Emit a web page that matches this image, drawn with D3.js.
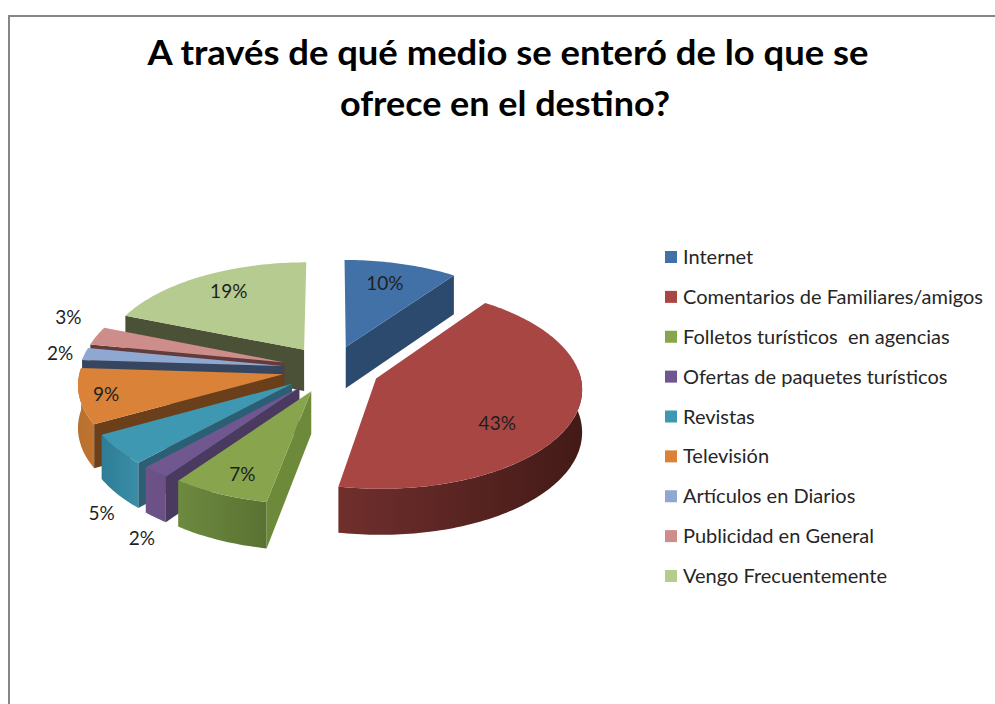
<!DOCTYPE html>
<html>
<head>
<meta charset="utf-8">
<script src="https://cdn.jsdelivr.net/npm/d3@7"></script>
<style>
  html, body { margin: 0; padding: 0; background: #fff; }
  svg { display: block; }
  text { font-family: Lato, "Open Sans", sans-serif; }
</style>
</head>
<body>
<div id="vis"></div>
<script>
const titleLines = ["A través de qué medio se enteró de lo que se", "ofrece en el destino?"];
const categories = ["Internet", "Comentarios de Familiares/amigos", "Folletos turísticos  en agencias",
  "Ofertas de paquetes turísticos", "Revistas", "Televisión", "Artículos en Diarios",
  "Publicidad en General", "Vengo Frecuentemente"];
const percents = [10, 43, 7, 2, 5, 9, 2, 3, 19];

// colours per slice
const topColors = ["#4271a8", "#a84643", "#88a54d", "#715790", "#3e98b1", "#d98238", "#8fa8d2", "#cd8d8b", "#b6cb90"];
const cutColors = ["#2c4a6e", "#451b18", "#6d8a3b", "#4b3a60", "#2a5f75", "#6a3f1a", "#374660", "#623b3a", "#4b5136"];
const wallLeft = ["#2c4a6e", "#702f2d", "#6d8a3f", "#6d5288", "#2f7c95", "#b8702f", "#7a90b5", "#a87573", "#94a675"];
const wallRight = ["#2c4a6e", "#431a17", "#5a7232", "#6b5085", "#3a8ea8", "#c07530", "#7a90b5", "#a87573", "#94a675"];

// back to front
const drawOrder = [0, 8, 7, 6, 5, 4, 3, 2, 1];

// label placement: radius on the disc, then a pixel shift
const labelRadius = [0.65, 0.65, 0.87, 1.15, 1.15, 0.87, 1.1, 1.1, 0.68];
const labelShiftX = [2, -5, 10, 10, 12, 0, -5, -10, -4];
const labelShiftY = [-8, 18, -6, 52, 53, 1, 0, -16, -8];

const width = 995, height = 704;
const svg = d3.select("#vis").append("svg").attr("width", width).attr("height", height);

// chart frame, only left and top edges show
svg.append("rect").attr("x", 9).attr("y", 16).attr("width", 1100).attr("height", 900)
  .attr("fill", "#fff").attr("stroke", "#868686").attr("stroke-width", 2);

svg.selectAll(".title").data(titleLines).enter().append("text")
  .attr("class", "title")
  .attr("x", (d, i) => i == 0 ? 508 : 505)
  .attr("y", (d, i) => 65 + i * 51)
  .attr("text-anchor", "middle")
  .attr("font-size", 35)
  .attr("font-weight", 700)
  .attr("fill", "#000")
  .attr("textLength", (d, i) => i == 0 ? 721 : 330)
  .attr("lengthAdjust", "spacingAndGlyphs")
  .text(d => d);

// pie angles, clockwise from 12 o'clock
const pie = d3.pie().sort(null).value(d => d);
const slices = pie(percents);

// disc coordinates to the screen with a bit of perspective
const cx = 331, cy = 369, k = 0.09, explode = 0.24;
const scaleX = d3.scaleLinear().domain([-1, 1]).range([cx - 203, cx + 203]);
const scaleY = d3.scaleLinear().domain([-1, 1]).range([cy + 98.6, cy - 98.6]);
const depth = v => 42 / (1 + 0.08 * v);

function project(u, v, down) {
  const f = 1 + k * v;
  return [scaleX(u / f), scaleY(v / f) + (down ? depth(v) : 0)];
}
function discPoint(s, angle, r) {
  const mid = (s.startAngle + s.endAngle) / 2;
  return [r * Math.sin(angle) + explode * Math.sin(mid), r * Math.cos(angle) + explode * Math.cos(mid)];
}
function arcAngles(a0, a1) {
  const n = Math.max(2, Math.ceil((a1 - a0) / 0.02));
  return d3.range(n + 1).map(i => a0 + (a1 - a0) * i / n);
}
const line = d3.line();

const defs = svg.append("defs");
percents.forEach((p, i) => {
  const g = defs.append("linearGradient").attr("id", "wall" + i);
  g.append("stop").attr("offset", "0%").attr("stop-color", wallLeft[i]);
  g.append("stop").attr("offset", "100%").attr("stop-color", wallRight[i]);
});

const pieG = svg.append("g");
drawOrder.forEach(i => {
  const s = slices[i];
  const apex = discPoint(s, 0, 0);
  const g = pieG.append("g");

  // curved outer wall, only the part that faces the viewer
  const a0 = Math.max(s.startAngle, Math.PI * 0.47), a1 = Math.min(s.endAngle, Math.PI * 1.53);
  if (a1 > a0) {
    const angles = arcAngles(a0, a1);
    const upper = angles.map(a => project(...discPoint(s, a, 1), false));
    const lower = angles.map(a => project(...discPoint(s, a, 1), true)).reverse();
    g.append("path").attr("d", line(upper.concat(lower)) + "Z").attr("fill", "url(#wall" + i + ")");
  }

  // flat cut wall
  const cutAngle = Math.sin(s.startAngle) < -1e-6 ? s.startAngle : (Math.sin(s.endAngle) > 1e-6 ? s.endAngle : null);
  if (cutAngle !== null) {
    const rim = discPoint(s, cutAngle, 1);
    g.append("path")
      .attr("d", line([project(...apex, false), project(...rim, false), project(...rim, true), project(...apex, true)]) + "Z")
      .attr("fill", cutColors[i]);
  }

  // top face
  const rimTop = arcAngles(s.startAngle, s.endAngle).map(a => project(...discPoint(s, a, 1), false));
  g.append("path")
    .attr("d", line([project(...apex, false)].concat(rimTop)) + "Z")
    .attr("fill", topColors[i]);
});

// percent labels
svg.selectAll(".pct").data(slices).enter().append("text")
  .attr("class", "pct")
  .attr("text-anchor", "middle")
  .attr("font-size", 19)
  .attr("fill", "#1f1f1f")
  .attr("transform", (s, i) => {
    const mid = (s.startAngle + s.endAngle) / 2;
    const p = project(...discPoint(s, mid, labelRadius[i]), false);
    return "translate(" + (p[0] + labelShiftX[i]) + "," + (p[1] + labelShiftY[i] + 7) + ")";
  })
  .text(s => s.data + "%");

// legend
const legendY = d3.scalePoint().domain(categories).range([257, 576]);
const legend = svg.selectAll(".legend").data(categories).enter().append("g")
  .attr("class", "legend")
  .attr("transform", d => "translate(665," + legendY(d) + ")");
legend.append("rect").attr("y", -6).attr("width", 12).attr("height", 12)
  .attr("fill", (d, i) => topColors[i]);
legend.append("text").attr("x", 18).attr("y", 7).attr("font-size", 20).attr("fill", "#262626")
  .style("white-space", "pre")
  .text(d => d);
</script>
</body>
</html>
